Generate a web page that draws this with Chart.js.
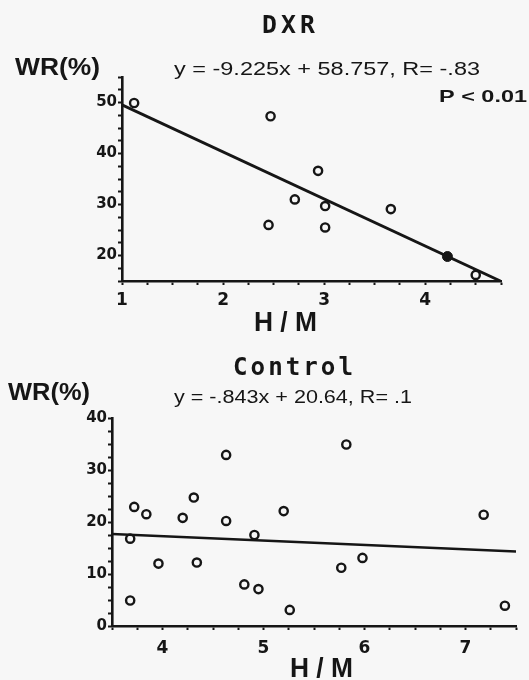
<!DOCTYPE html>
<html><head><meta charset="utf-8">
<script src="https://cdn.jsdelivr.net/npm/chart.js@4/dist/chart.umd.min.js"></script>
<style>
html,body{margin:0;padding:0;background:#f7f7f7;}
#wrap{position:relative;width:529px;height:680px;overflow:hidden;background:#f7f7f7;}
canvas{position:absolute;left:0;}
#c1{top:0}
#c2{top:340px}
</style></head><body>
<div id="wrap"><canvas id="c1" width="529" height="340"></canvas><canvas id="c2" width="529" height="340"></canvas></div>
<script>
// ---- DXR group ----
const dxrHM = [1.12, 2.47, 2.94, 2.71, 3.01, 2.45, 3.01, 3.66, 4.50];
const dxrWR = [49.9, 47.3, 36.6, 31.0, 29.7, 26.0, 25.5, 29.1, 16.2];
const dxrFilledHM = [4.22];
const dxrFilledWR = [19.8];
const dxrSlope = -9.225, dxrIntercept = 58.757;
const dxrXTickLabels = [1, 2, 3, 4];
const dxrYTickLabels = [20, 30, 40, 50];

// ---- Control group ----
const ctlHM = [3.72, 3.68, 3.68, 3.84, 3.96, 4.20, 4.31, 4.34, 4.63, 4.63, 4.81, 4.91, 4.95, 5.20, 5.26, 5.77, 5.82, 5.98, 7.18, 7.39];
const ctlWR = [22.9, 16.8, 4.9, 21.5, 12.0, 20.8, 24.7, 12.2, 32.9, 20.2, 8.0, 17.5, 7.1, 22.1, 3.1, 11.2, 34.9, 13.1, 21.4, 3.9];
const ctlSlope = -0.843, ctlIntercept = 20.64;
const ctlXTickLabels = [4, 5, 6, 7];
const ctlYTickLabels = [0, 10, 20, 30, 40];

const INK = '#161616';

function pts(xs, ys){ return xs.map((x,i)=>({x:x, y:ys[i]})); }
function fitLine(slope, icpt, x0, x1){ return [{x:x0,y:slope*x0+icpt},{x:x1,y:slope*x1+icpt}]; }

function textPlugin(items){
  return {
    id:'textLayer',
    afterDraw(chart){
      const ctx = chart.ctx;
      items.forEach(it=>{
        ctx.save();
        ctx.font = it.font;
        ctx.fillStyle = INK;
        ctx.textAlign = 'left';
        ctx.textBaseline = 'alphabetic';
        const ls = it.ls || 0;
        ctx.letterSpacing = ls + 'px';
        const w = ctx.measureText(it.text).width - ls;
        const sx = (it.x1 - it.x0) / w;
        ctx.translate(it.x0, it.y);
        ctx.scale(sx, 1);
        ctx.fillText(it.text, 0, 0);
        ctx.restore();
      });
    }
  };
}

function axisCommon(){
  return {
    type:'linear',
    grid:{drawOnChartArea:false, drawTicks:true, tickLength:4, tickColor:INK, tickWidth:2, color:INK},
    border:{display:true, color:INK, width:2.6},
  };
}

function makeChart(id, cfg){
  const xAxis = Object.assign(axisCommon(), {
    min:cfg.xmin, max:cfg.xmax,
    afterFit(s){ s.height = cfg.xh; },
    ticks:{stepSize:0.25, autoSkip:false, maxRotation:0, padding:cfg.xpad, color:INK,
      font:{family:'DejaVu Sans', weight:'bold', size:17},
      callback:v => cfg.xLabels.includes(v) ? String(v) : ''}
  });
  const yAxis = Object.assign(axisCommon(), {
    min:cfg.ymin, max:cfg.ymax,
    afterFit(s){ s.width = cfg.yw; },
    ticks:{stepSize:2.5, autoSkip:false, padding:1, color:INK,
      font:{family:'DejaVu Sans', weight:'bold', size:15},
      callback:v => cfg.yLabels.includes(v) ? String(v) : ''}
  });
  return new Chart(document.getElementById(id), {
    type:'scatter',
    data:{datasets:cfg.datasets},
    options:{
      responsive:false, animation:false, devicePixelRatio:1,
      layout:{padding:cfg.padding},
      plugins:{legend:{display:false}, title:{display:false}, tooltip:{enabled:false}},
      scales:{x:xAxis, y:yAxis}
    },
    plugins:[textPlugin(cfg.texts)]
  });
}

const openPt = {pointStyle:'circle', pointRadius:4.1, pointBorderWidth:2.4, borderColor:INK, pointBorderColor:INK, backgroundColor:'rgba(0,0,0,0)', pointBackgroundColor:'rgba(0,0,0,0)', showLine:false};

makeChart('c1', {
  xmin:1, xmax:4.75, ymin:15, ymax:55, xh:59, yw:122, xpad:5,
  padding:{top:77, right:28, left:0, bottom:0},
  xLabels:dxrXTickLabels, yLabels:dxrYTickLabels,
  datasets:[
    Object.assign({label:'DXR', data:pts(dxrHM, dxrWR)}, openPt),
    {label:'DXR (filled)', data:pts(dxrFilledHM, dxrFilledWR), showLine:false, pointRadius:5, pointBorderWidth:1, pointBackgroundColor:INK, pointBorderColor:INK},
    {type:'line', label:'fit', data:fitLine(dxrSlope, dxrIntercept, 1, 4.75), borderColor:INK, borderWidth:2.8, pointRadius:0, fill:false, tension:0}
  ],
  texts:[
    {text:'DXR', font:'bold 24px "DejaVu Sans Mono"', ls:4, x0:262, x1:315, y:33},
    {text:'WR(%)', font:'bold 24px "Liberation Sans"', x0:15, x1:100, y:75},
    {text:'y = -9.225x + 58.757, R= -.83', font:'18px "Liberation Sans"', x0:174, x1:480, y:75},
    {text:'P < 0.01', font:'bold 17px "Liberation Sans"', x0:439, x1:527, y:102},
    {text:'H / M', font:'bold 27px "Liberation Sans"', x0:254, x1:317, y:331}
  ]
});

makeChart('c2', {
  xmin:3.5, xmax:7.5, ymin:0, ymax:40, xh:54, yw:112, xpad:8,
  padding:{top:78, right:13, left:0, bottom:0},
  xLabels:ctlXTickLabels, yLabels:ctlYTickLabels,
  datasets:[
    Object.assign({label:'Control', data:pts(ctlHM, ctlWR)}, openPt),
    {type:'line', label:'fit', data:fitLine(ctlSlope, ctlIntercept, 3.5, 7.5), borderColor:INK, borderWidth:2.4, pointRadius:0, fill:false, tension:0}
  ],
  texts:[
    {text:'Control', font:'bold 24px "DejaVu Sans Mono"', ls:3, x0:233, x1:353, y:35},
    {text:'WR(%)', font:'bold 24px "Liberation Sans"', x0:8, x1:90, y:60},
    {text:'y = -.843x + 20.64, R= .1', font:'18px "Liberation Sans"', x0:174, x1:412, y:63},
    {text:'H / M', font:'bold 27px "Liberation Sans"', x0:290, x1:353, y:337}
  ]
});
</script>
</body></html>
